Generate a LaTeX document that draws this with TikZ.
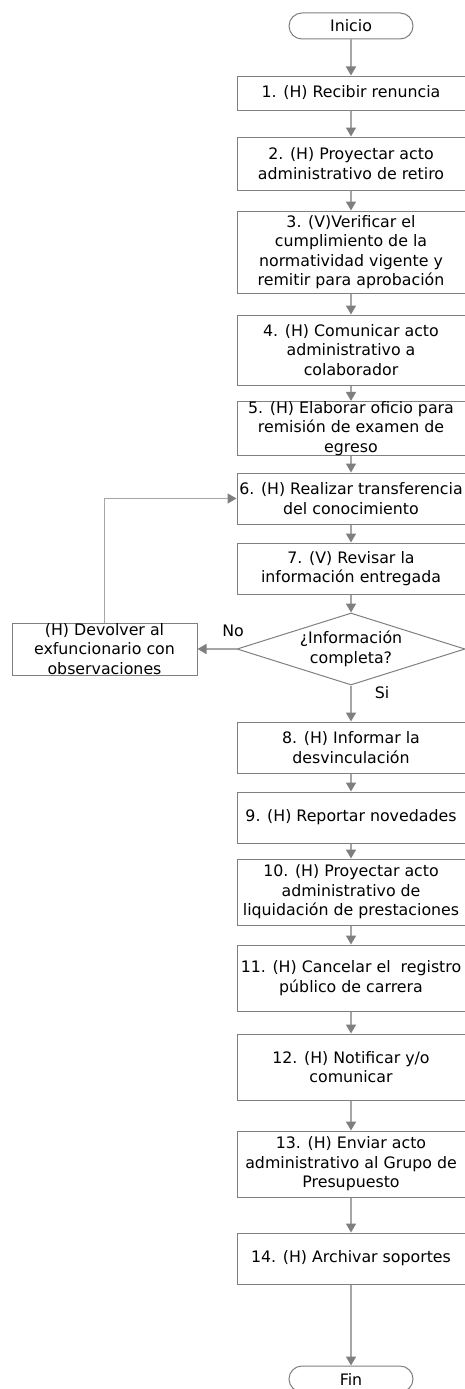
\documentclass[tikz,border=0pt]{standalone}
\usepackage{fontspec}
\setmainfont{DejaVu Sans}
\usetikzlibrary{arrows.meta,shapes.geometric}
\definecolor{boxgray}{HTML}{808080}
\definecolor{linegray}{HTML}{A6A6A6}
\definecolor{tipgray}{HTML}{7F7F7F}
\begin{document}
\begin{tikzpicture}[x=1pt,y=-1pt,
  every node/.style={font=\fontsize{15.8}{19.5}\selectfont, inner sep=0pt, align=center},
  stepbox/.style={draw=boxgray, line width=1pt, minimum width=228pt, fill=white},
  term/.style={draw=boxgray, line width=1pt, rounded corners=13pt, minimum width=124pt, minimum height=26pt},
  decision/.style={draw=boxgray, line width=1pt, diamond, shape aspect=3.2, minimum width=228pt, minimum height=72pt},
  flow/.style={draw=linegray, line width=1.6pt, -{Triangle[length=9pt,width=10pt,color=tipgray]}},
  lbl/.style={font=\fontsize{15.8}{19.5}\selectfont}
]
\useasboundingbox (0,0) rectangle (464,1389);
\fill[white] (0,0) rectangle (464,1389);

\node[term] (ini) at (351,26) {Inicio};
\node[stepbox, minimum height=34pt] (b1) at (351,93) {1. (H) Recibir renuncia};
\node[stepbox, minimum height=53pt] (b2) at (351,163.5) {2. (H) Proyectar acto\\administrativo de retiro};
\node[stepbox, minimum height=82pt] (b3) at (351,252) {3. (V)Verificar el\\cumplimiento de la\\normatividad vigente y\\remitir para aprobación};
\node[stepbox, minimum height=70pt] (b4) at (351,350) {4. (H) Comunicar acto\\administrativo a\\colaborador};
\node[stepbox, minimum height=51pt] (b5) at (351,428.5) {5. (H) Elaborar oficio para\\remisión de examen de\\egreso};
\node[stepbox, minimum height=51pt] (b6) at (351,498.5) {6. (H) Realizar transferencia\\del conocimiento};
\node[stepbox, minimum height=51pt] (b7) at (351,568.5) {7. (V) Revisar la\\información entregada};
\node[decision] (d) at (351,649) {¿Información\\completa?};
\node[stepbox, minimum width=185pt, minimum height=52pt] (dev) at (104.5,649) {(H) Devolver al\\exfuncionario con\\observaciones};
\node[stepbox, minimum height=51pt] (b8) at (351,747.5) {8. (H) Informar la\\desvinculación};
\node[stepbox, minimum height=51pt] (b9) at (351,817.5) {9. (H) Reportar novedades};
\node[stepbox, minimum height=66pt] (b10) at (351,892) {10. (H) Proyectar acto\\administrativo de\\liquidación de prestaciones};
\node[stepbox, minimum height=66pt] (b11) at (351,978) {11. (H) Cancelar el\ \ registro\\público de carrera};
\node[stepbox, minimum height=66pt] (b12) at (351,1067) {12. (H) Notificar y/o\\comunicar};
\node[stepbox, minimum height=66pt] (b13) at (351,1164) {13. (H) Enviar acto\\administrativo al Grupo de\\Presupuesto};
\node[stepbox, minimum height=51pt] (b14) at (351,1258.5) {14. (H) Archivar soportes};
\node[term] (fin) at (351,1379) {Fin};

\node[lbl] (no) at (233,631) {No};
\node[lbl] (si) at (382,693) {Si};

\draw[flow] (ini) -- (b1);
\draw[flow] (b1) -- (b2);
\draw[flow] (b2) -- (b3);
\draw[flow] (b3) -- (b4);
\draw[flow] (b4) -- (b5);
\draw[flow] (b5) -- (b6);
\draw[flow] (b6) -- (b7);
\draw[flow] (b7) -- (d);
\draw[flow] (d) -- (b8);
\draw[flow] (d.west) -- (dev.east);
\draw[flow] (dev.north) |- (b6.west);
\draw[flow] (b8) -- (b9);
\draw[flow] (b9) -- (b10);
\draw[flow] (b10) -- (b11);
\draw[flow] (b11) -- (b12);
\draw[flow] (b12) -- (b13);
\draw[flow] (b13) -- (b14);
\draw[flow] (b14) -- (fin);
\end{tikzpicture}
\end{document}
